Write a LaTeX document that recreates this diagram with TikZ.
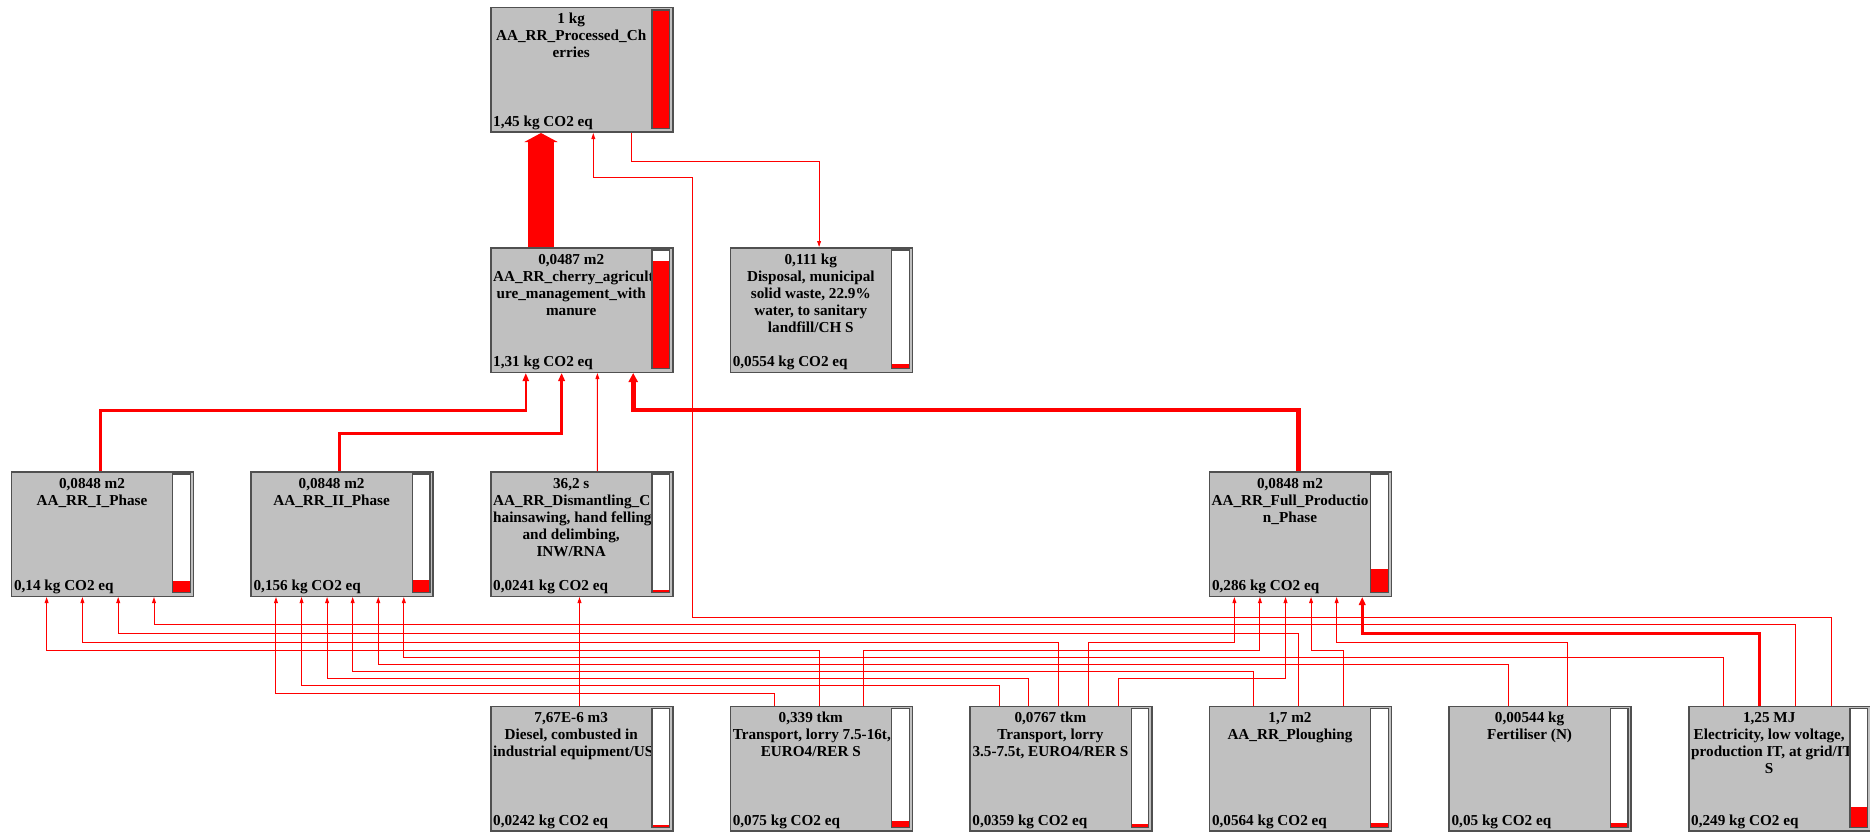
\documentclass[tikz,border=0pt]{standalone}
\usepackage{fontspec}
\setmainfont{Liberation Serif}
\usetikzlibrary{arrows.meta,calc}
\definecolor{boxgray}{HTML}{C0C0C0}
\definecolor{boxedge}{HTML}{505050}
\definecolor{linkred}{HTML}{FF0000}
\newsavebox\tlbox
\newcommand\tline[1]{\sbox\tlbox{#1}\ifdim\wd\tlbox>157pt\makebox[162pt][l]{\hspace{3pt}\usebox\tlbox}\else\makebox[162pt][c]{\usebox\tlbox}\fi}
\newcommand\procbox[6]{%
  \node[pbox, anchor=north west] (#1) at (#2,#3) {};
  \node[toptext] at (#2,#3+17) {\parbox[t]{162pt}{\fontsize{15.2}{17}\selectfont\bfseries #5}};
  \node[bottext] at (#2+3,#3+119.5) {#6};
  \fill[white] (#2+162,#3+3) rectangle (#2+179.5,#3+121.5);
  \fill[linkred] (#2+162,#3+121.5) rectangle (#2+179.5,{#3+121.5-118.5*#4});
  \draw[barframe] (#2+162,#3+3) rectangle (#2+179.5,#3+121.5);
}
\tikzset{
  pbox/.style={draw=boxedge, line width=1.5pt, fill=boxgray, minimum width=182pt, minimum height=124.5pt, inner sep=0pt},
  barframe/.style={draw=boxedge, line width=1.2pt},
  toptext/.style={anchor=base west, inner sep=0pt},
  bottext/.style={anchor=base west, inner sep=0pt, font=\fontsize{15.2}{17}\selectfont\bfseries},
  link/.style={draw=linkred, line width=1pt, -{Triangle[width=3.8pt,length=6pt]}},
  linkm/.style={draw=linkred, line width=2.6pt, -{Triangle[width=6pt,length=8pt]}},
  linkn/.style={draw=linkred, line width=2.9pt, -{Triangle[width=6.5pt,length=8pt]}},
  linke/.style={draw=linkred, line width=3.1pt, -{Triangle[width=6.5pt,length=8pt]}},
  linkt/.style={draw=linkred, line width=4.6pt, -{Triangle[width=9pt,length=9pt]}},
  bigarrow/.style={draw=linkred, line width=25.7pt, -{Triangle[width=33pt,length=9pt]}}
}
\begin{document}
\begin{tikzpicture}[x=1pt,y=-1pt]
\useasboundingbox (0,0) rectangle (1870,832);
\fill[white] (0,0) rectangle (1870,832);
% boxes
\procbox{proc}{490}{7}{1}{\tline{1 kg}\\\tline{AA\_RR\_Processed\_Ch}\\\tline{erries}}{1,45 kg CO2 eq}
\procbox{agri}{490}{247}{0.903}{\tline{0,0487 m2}\\\tline{AA\_RR\_cherry\_agricult}\\\tline{ure\_management\_with}\\\tline{manure}}{1,31 kg CO2 eq}
\procbox{disp}{729.6}{247}{0.038}{\tline{0,111 kg}\\\tline{Disposal, municipal}\\\tline{solid waste, 22.9\%}\\\tline{water, to sanitary}\\\tline{landfill/CH S}}{0,0554 kg CO2 eq}
\procbox{ph1}{10.8}{471}{0.097}{\tline{0,0848 m2}\\\tline{AA\_RR\_I\_Phase}}{0,14 kg CO2 eq}
\procbox{ph2}{250.4}{471}{0.108}{\tline{0,0848 m2}\\\tline{AA\_RR\_II\_Phase}}{0,156 kg CO2 eq}
\procbox{dism}{490}{471}{0.017}{\tline{36,2 s}\\\tline{AA\_RR\_Dismantling\_C}\\\tline{hainsawing, hand felling}\\\tline{and delimbing,}\\\tline{INW/RNA}}{0,0241 kg CO2 eq}
\procbox{full}{1208.8}{471}{0.197}{\tline{0,0848 m2}\\\tline{AA\_RR\_Full\_Productio}\\\tline{n\_Phase}}{0,286 kg CO2 eq}
\procbox{diesel}{490}{705.7}{0.017}{\tline{7,67E-6 m3}\\\tline{Diesel, combusted in}\\\tline{industrial equipment/US}}{0,0242 kg CO2 eq}
\procbox{trA}{729.6}{705.7}{0.052}{\tline{0,339 tkm}\\\tline{Transport, lorry 7.5-16t,}\\\tline{EURO4/RER S}}{0,075 kg CO2 eq}
\procbox{trB}{969.2}{705.7}{0.025}{\tline{0,0767 tkm}\\\tline{Transport, lorry}\\\tline{3.5-7.5t, EURO4/RER S}}{0,0359 kg CO2 eq}
\procbox{plough}{1208.8}{705.7}{0.039}{\tline{1,7 m2}\\\tline{AA\_RR\_Ploughing}}{0,0564 kg CO2 eq}
\procbox{fert}{1448.4}{705.7}{0.034}{\tline{0,00544 kg}\\\tline{Fertiliser (N)}}{0,05 kg CO2 eq}
\procbox{elec}{1688}{705.7}{0.172}{\tline{1,25 MJ}\\\tline{Electricity, low voltage,}\\\tline{production IT, at grid/IT}\\\tline{S}}{0,249 kg CO2 eq}
% connection points
\coordinate (procb1) at ([xshift=51pt]proc.south west);
\coordinate (procb2) at ([xshift=103.3pt]proc.south west);
\coordinate (procb3) at ([xshift=141pt]proc.south west);
\coordinate (agrit) at ([xshift=51pt]agri.north west);
\coordinate (dispt) at ([xshift=89.5pt]disp.north west);
\coordinate (ph1t) at ([xshift=89.5pt]ph1.north west);
\coordinate (ph2t) at ([xshift=89.5pt]ph2.north west);
\coordinate (fullt) at ([xshift=89.5pt]full.north west);
\coordinate (dismt) at ([xshift=107.4pt]dism.north west);
\coordinate (dismb) at ([xshift=89.5pt]dism.south west);
\coordinate (dieselt) at ([xshift=89.5pt]diesel.north west);
\foreach \k [evaluate=\k as \o using \k*35.8] in {1,...,4} {
  \coordinate (agrib\k) at ([xshift=\o pt]agri.south west);
  \coordinate (ph1b\k) at ([xshift=\o pt]ph1.south west);
  \coordinate (elect\k) at ([xshift=\o pt]elec.north west);
}
\foreach \k [evaluate=\k as \o using \k*25.57] in {1,...,6} {
  \coordinate (ph2b\k) at ([xshift=\o pt]ph2.south west);
  \coordinate (fullb\k) at ([xshift=\o pt]full.south west);
}
\foreach \k [evaluate=\k as \o using \k*44.75] in {1,...,3} {
  \coordinate (trAt\k) at ([xshift=\o pt]trA.north west);
  \coordinate (plought\k) at ([xshift=\o pt]plough.north west);
}
\foreach \k [evaluate=\k as \o using \k*29.83] in {1,...,5} {
  \coordinate (trBt\k) at ([xshift=\o pt]trB.north west);
}
\foreach \k [evaluate=\k as \o using \k*59.67] in {1,...,2} {
  \coordinate (fertt\k) at ([xshift=\o pt]fert.north west);
}
% routing levels
\coordinate (lv0) at (0,617);
\coordinate (lv1) at (0,624.3);
\coordinate (lv2) at (0,633.3);
\coordinate (lv3) at (0,642.3);
\coordinate (lv4) at (0,650.3);
\coordinate (lv5) at (0,657.3);
\coordinate (lv6) at (0,664.3);
\coordinate (lv7) at (0,671.3);
\coordinate (lv8) at (0,678.3);
\coordinate (lv9) at (0,685.7);
\coordinate (lv10) at (0,693.3);
\coordinate (up1) at (0,410.7);
\coordinate (up2) at (0,433.3);
\coordinate (upF) at (0,410);
\coordinate (elecup) at (0,177);
\coordinate (elecx) at (692.9,0);
\coordinate (dispup) at (0,161);
% connectors
\draw[bigarrow] (agrit) -- (procb1);
\draw[link] (elect4) |- (elecx |- lv0) |- (procb2 |- elecup) -- (procb2);
\draw[link] (procb3) |- (dispt |- dispup) -- (dispt);
\draw[linkm] (ph1t) |- (agrib1 |- up1) -- (agrib1);
\draw[linkn] (ph2t) |- (agrib2 |- up2) -- (agrib2);
\draw[link] (dismt) -- (agrib3);
\draw[linkt] (fullt) |- (agrib4 |- upF) -- (agrib4);
\draw[link] (dieselt) -- (dismb);
\draw[linke] (elect2) |- (fullb6 |- lv2) -- (fullb6);
\foreach \s/\t/\l in {elect3/ph1b4/lv1, plought2/ph1b3/lv2, trBt3/ph1b2/lv3,
  trBt4/fullb1/lv3, fertt2/fullb5/lv3, trAt2/ph1b1/lv4, trAt3/fullb2/lv4,
  plought3/fullb4/lv4, elect1/ph2b6/lv5, fertt1/ph2b5/lv6, plought1/ph2b4/lv7,
  trBt2/ph2b3/lv8, trBt5/fullb3/lv8, trBt1/ph2b2/lv9, trAt1/ph2b1/lv10}
  \draw[link] (\s) |- (\t |- \l) -- (\t);
\end{tikzpicture}
\end{document}
